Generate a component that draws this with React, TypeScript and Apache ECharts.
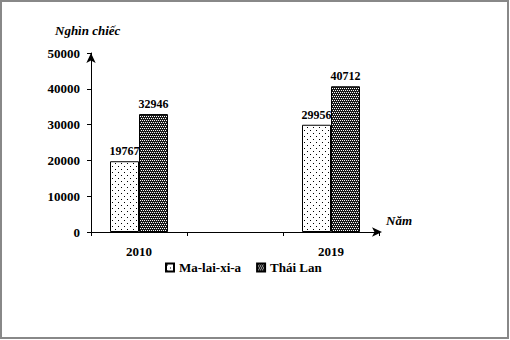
import React, { useEffect, useRef } from "react";
import * as echarts from "echarts";

const categories = ["2010", "", "2019"];
const malaysia = [19767, null, 29956];
const thailand = [32946, null, 40712];
const seriesNames = ["Ma-lai-xi-a", "Thái Lan"];
const yTicks = { min: 0, max: 50000, interval: 10000 };

function makeDots(): HTMLCanvasElement {
  const c = document.createElement("canvas");
  c.width = 6;
  c.height = 6;
  const ctx = c.getContext("2d")!;
  ctx.fillStyle = "#ffffff";
  ctx.fillRect(0, 0, 6, 6);
  ctx.fillStyle = "#000000";
  ctx.fillRect(1, 1, 1, 1);
  ctx.fillRect(4, 4, 1, 1);
  return c;
}

function makeHatch(): HTMLCanvasElement {
  const c = document.createElement("canvas");
  c.width = 4;
  c.height = 4;
  const ctx = c.getContext("2d")!;
  ctx.fillStyle = "#1a1a1a";
  ctx.fillRect(0, 0, 4, 4);
  ctx.fillStyle = "#ffffff";
  ctx.fillRect(0, 0, 1, 1);
  ctx.fillRect(2, 0, 1, 1);
  ctx.fillRect(1, 2, 1, 1);
  ctx.fillRect(3, 2, 1, 1);
  return c;
}

const FONT = "Liberation Serif";

export default function App() {
  const ref = useRef<HTMLDivElement>(null);
  useEffect(() => {
    document.body.style.margin = "0";
    const chart = echarts.init(ref.current!, null, { renderer: "svg" });
    const dots = makeDots();
    const hatch = makeHatch();
    const labelStyle = {
      show: true,
      position: "top" as const,
      distance: 4,
      fontFamily: FONT,
      fontWeight: "bold" as const,
      fontSize: 12,
      color: "#000",
    };
    chart.setOption({
      animation: false,
      backgroundColor: "#fff",
      textStyle: { fontFamily: FONT },
      grid: { left: 91, right: 131, top: 53, bottom: 108 },
      xAxis: {
        type: "category",
        data: categories,
        axisLine: {
          lineStyle: { color: "#000", width: 1 },
          symbol: ["none", "arrow"],
          symbolSize: [7, 10],
          symbolOffset: [0, 3],
        },
        axisTick: { show: true, length: 4, lineStyle: { color: "#000" } },
        axisLabel: {
          margin: 13,
          fontFamily: FONT,
          fontWeight: "bold",
          fontSize: 13,
          color: "#000",
        },
      },
      yAxis: {
        type: "value",
        min: yTicks.min,
        max: yTicks.max,
        interval: yTicks.interval,
        splitLine: { show: false },
        axisLine: {
          show: true,
          lineStyle: { color: "#000", width: 1 },
          symbol: ["none", "arrow"],
          symbolSize: [7, 10],
        },
        axisTick: { show: true, length: 4, lineStyle: { color: "#000" } },
        axisLabel: {
          margin: 11,
          formatter: (v: number) => String(v),
          fontFamily: FONT,
          fontWeight: "bold",
          fontSize: 13,
          color: "#000",
        },
      },
      legend: {
        left: 160,
        top: 256,
        itemWidth: 8,
        itemHeight: 8,
        itemGap: 15,
        icon: "rect",
        textStyle: {
          fontFamily: FONT,
          fontWeight: "bold",
          fontSize: 13,
          color: "#000",
        },
        data: seriesNames,
      },
      series: [
        {
          name: seriesNames[0],
          type: "bar",
          data: malaysia,
          barWidth: 29,
          barGap: "0%",
          itemStyle: {
            color: { image: dots, repeat: "repeat" },
            borderColor: "#000",
            borderWidth: 1,
          },
          label: labelStyle,
        },
        {
          name: seriesNames[1],
          type: "bar",
          data: thailand,
          barWidth: 29,
          barGap: "0%",
          itemStyle: {
            color: { image: hatch, repeat: "repeat" },
            borderColor: "#000",
            borderWidth: 1,
          },
          label: labelStyle,
        },
      ],
      graphic: [
        {
          type: "rect",
          shape: { x: 1, y: 1, width: 507, height: 337 },
          style: { fill: "none", stroke: "#888", lineWidth: 2 },
          silent: true,
        },
        {
          type: "text",
          left: 55,
          top: 24,
          style: {
            text: "Nghìn chiếc",
            fontFamily: FONT,
            fontWeight: "bold",
            fontStyle: "italic",
            fontSize: 13,
            fill: "#000",
          },
        },
        {
          type: "text",
          left: 386,
          top: 214,
          style: {
            text: "Năm",
            fontFamily: FONT,
            fontWeight: "bold",
            fontStyle: "italic",
            fontSize: 13,
            fill: "#000",
          },
        },
      ],
    });
    return () => chart.dispose();
  }, []);
  return (
    <div
      ref={ref}
      style={{ position: "absolute", left: 0, top: 0, width: 510, height: 340 }}
    />
  );
}
